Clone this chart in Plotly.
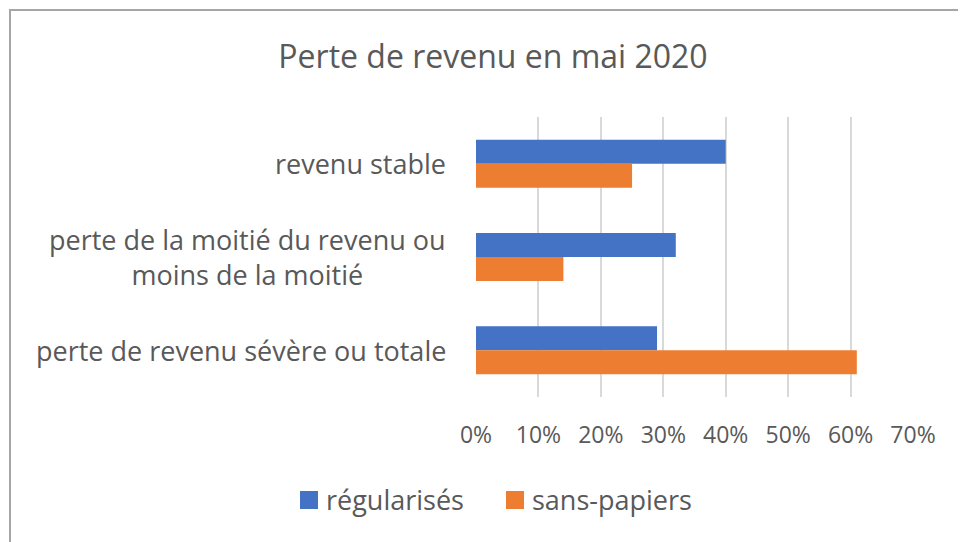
import plotly.graph_objects as go

categories = ["revenu stable",
              "perte de la moitié du revenu ou<br>moins de la moitié",
              "perte de revenu sévère ou totale"]
regularises = [0.40, 0.32, 0.29]
sans_papiers = [0.25, 0.14, 0.61]
series_names = ["régularisés", "sans-papiers"]
series_colors = ["#4472C4", "#ED7D31"]
x_ticks = [0, 0.1, 0.2, 0.3, 0.4, 0.5, 0.6, 0.7]
x_ticklabels = ["0%", "10%", "20%", "30%", "40%", "50%", "60%", "70%"]

W, H = 966, 542
OFF = 8  # page body margin
L, T = 476 - OFF, 117 - OFF
pw, ph = 437, 280
R = W - L - pw
B = H - T - ph
FONT = "Open Sans"
TXT = "#595959"

def px_to_paper_x(px):
    return (px - OFF - L) / pw

def px_to_paper_y(py):
    return (H - B - (py - OFF)) / ph

fig = go.Figure()
for name, vals, col in zip(series_names, [regularises, sans_papiers], series_colors):
    fig.add_trace(go.Bar(y=categories, x=vals, name=name, orientation="h",
                         marker=dict(color=col, line=dict(width=0)), showlegend=False))

annotations = []
for c in categories:
    annotations.append(dict(xref="paper", yref="y", x=px_to_paper_x(448), y=c,
                            text=c, showarrow=False, xanchor="right", yanchor="middle",
                            align="center", font=dict(family=FONT, size=27, color=TXT)))

shapes = [dict(type="rect", xref="paper", yref="paper",
               x0=px_to_paper_x(10), x1=px_to_paper_x(990),
               y0=px_to_paper_y(570), y1=px_to_paper_y(10),
               line=dict(color="#A6A6A6", width=2), layer="below")]

# manual legend
legend_sq_x = [300, 506]
for name, col, sx in zip(series_names, series_colors, legend_sq_x):
    shapes.append(dict(type="rect", xref="paper", yref="paper",
                       x0=px_to_paper_x(sx), x1=px_to_paper_x(sx + 18),
                       y0=px_to_paper_y(509), y1=px_to_paper_y(491),
                       fillcolor=col, line=dict(width=0)))
    annotations.append(dict(xref="paper", yref="paper", x=px_to_paper_x(sx + 24),
                            y=px_to_paper_y(499), text=name, showarrow=False,
                            xanchor="left", yanchor="middle",
                            font=dict(family=FONT, size=27, color=TXT)))

fig.update_layout(
    width=W, height=H,
    margin=dict(l=L, r=R, t=T, b=B),
    paper_bgcolor="white", plot_bgcolor="white",
    barmode="group", bargap=0.485, bargroupgap=0,
    title=dict(text="Perte de revenu en mai 2020", x=px_to_paper_x(493), xref="paper",
               xanchor="center", y=1 - (57 - OFF) / H, yanchor="middle",
               font=dict(family=FONT, size=32, color=TXT)),
    xaxis=dict(range=[0, 0.7], tickvals=x_ticks, ticktext=x_ticklabels,
               showgrid=True, gridcolor="#D9D9D9", gridwidth=1.5,
               zeroline=False, showline=False, ticks="",
               tickfont=dict(family=FONT, size=23, color=TXT), ticklabelstandoff=22,
               fixedrange=True),
    yaxis=dict(autorange="reversed", showticklabels=False, showgrid=False,
               zeroline=False, showline=False, ticks=""),
    annotations=annotations,
    shapes=shapes,
    showlegend=False,
)

fig.write_html("out.html")
